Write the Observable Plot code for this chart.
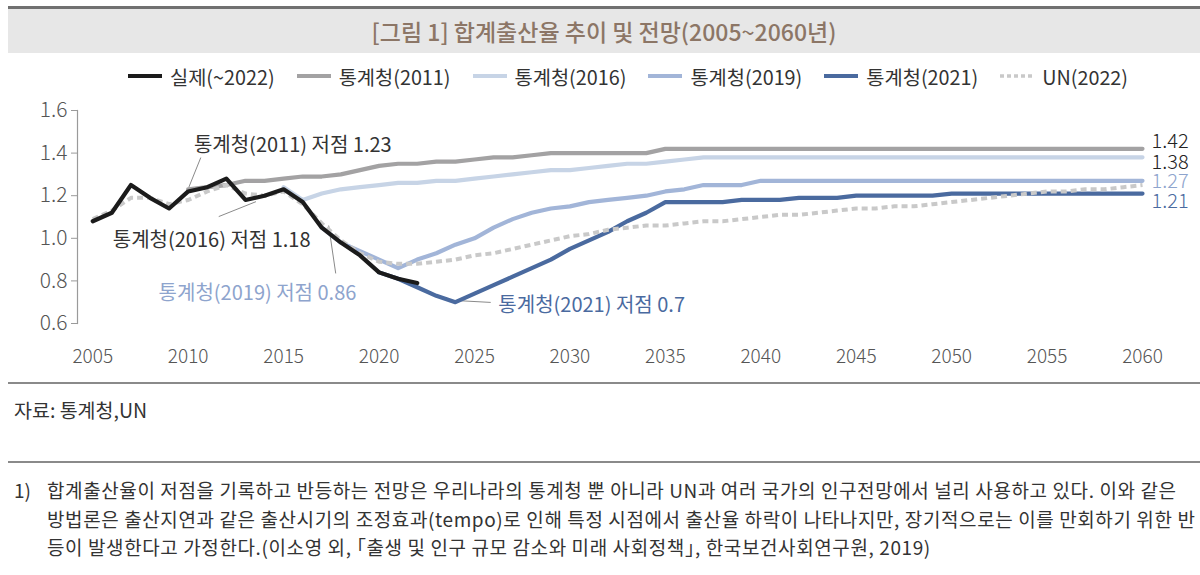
<!DOCTYPE html>
<html><head><meta charset="utf-8">
<script src="https://cdn.jsdelivr.net/npm/d3@7"></script>
<script src="https://cdn.jsdelivr.net/npm/@observablehq/plot@0.6"></script>
<style>
body{margin:0;background:#fff;font-family:"Noto Sans CJK KR","Noto Sans",sans-serif;width:1200px;height:575px;overflow:hidden;position:relative;color:#333;}
#title{position:absolute;left:8px;right:0;top:6px;height:44px;border-top:3px solid #707070;background:#e7e7e7;color:#8c7666;font-size:23px;font-weight:500;text-align:center;line-height:44px;}
#legend{position:absolute;top:62px;left:28px;width:1200px;display:flex;justify-content:center;align-items:center;font-size:19.8px;color:#333;height:28px;}
#legend .item{display:flex;align-items:center;margin:0 11px;}
#legend svg{margin-right:8px;}
#chart{position:absolute;top:95px;left:0;}
.rule{position:absolute;left:8px;right:0;height:2px;background:#8a8a8a;}
#source{position:absolute;left:14px;top:395px;font-size:19.5px;color:#333;}
#note{position:absolute;left:14px;top:476px;font-size:19px;letter-spacing:0.6px;color:#333;line-height:28.5px;white-space:nowrap;}
#note .num{position:absolute;left:0;top:0;letter-spacing:0;}
#note .txt{margin-left:33px;}
.br{font-feature-settings:"halt";}
</style>
</head><body>
<div id="title">[그림 1] 합계출산율 추이 및 전망(2005~2060년)</div>
<div id="legend"></div>
<div id="chart"></div>
<div class="rule" style="top:382px"></div>
<div id="source">자료: 통계청,UN</div>
<div class="rule" style="top:461px"></div>
<div id="note"><span class="num">1)</span><div class="txt">합계출산율이 저점을 기록하고 반등하는 전망은 우리나라의 통계청 뿐 아니라 UN과 여러 국가의 인구전망에서 널리 사용하고 있다. 이와 같은<br>방법론은 출산지연과 같은 출산시기의 조정효과(tempo)로 인해 특정 시점에서 출산율 하락이 나타나지만, 장기적으로는 이를 만회하기 위한 반<br>등이 발생한다고 가정한다.(이소영 외, <span class="br">「출생 및 인구 규모 감소와 미래 사회정책」</span>, 한국보건사회연구원, 2019)</div></div>
<script>
// ---- data ----
const seriesNames = ["실제(~2022)", "통계청(2011)", "통계청(2016)", "통계청(2019)", "통계청(2021)", "UN(2022)"];
const seriesStart = [2005, 2010, 2015, 2017, 2020, 2005];

const actual = [1.08,1.12,1.25,1.19,1.14,1.22,1.24,1.28,1.18,1.20,1.23,1.17,1.05,0.98,0.92,0.84,0.81,0.79];

const kostat2011 = [1.23,1.24,1.25,1.27,1.27,1.28,1.29,1.29,1.30,1.32,1.34,
  1.35,1.35,1.36,1.36,1.37,1.38,1.38,1.39,1.40,1.40,
  1.40,1.40,1.40,1.40,1.42,1.42,1.42,1.42,1.42,1.42,
  1.42,1.42,1.42,1.42,1.42,1.42,1.42,1.42,1.42,1.42,
  1.42,1.42,1.42,1.42,1.42,1.42,1.42,1.42,1.42,1.42];

const kostat2016 = [1.24,1.18,1.21,1.23,1.24,1.25,1.26,1.26,1.27,1.27,
  1.28,1.29,1.30,1.31,1.32,1.32,1.33,1.34,1.35,1.35,
  1.36,1.37,1.38,1.38,1.38,1.38,1.38,1.38,1.38,1.38,
  1.38,1.38,1.38,1.38,1.38,1.38,1.38,1.38,1.38,1.38,
  1.38,1.38,1.38,1.38,1.38,1.38];

const kostat2019 = [1.05,0.98,0.94,0.90,0.86,0.90,0.93,0.97,1.00,1.05,
  1.09,1.12,1.14,1.15,1.17,1.18,1.19,1.20,1.22,1.23,
  1.25,1.25,1.25,1.27,1.27,1.27,1.27,1.27,1.27,1.27,
  1.27,1.27,1.27,1.27,1.27,1.27,1.27,1.27,1.27,1.27,
  1.27,1.27,1.27,1.27];

const kostat2021 = [0.84,0.81,0.77,0.73,0.70,0.74,0.78,0.82,0.86,0.90,
  0.95,0.99,1.03,1.08,1.12,1.17,1.17,1.17,1.17,1.18,
  1.18,1.18,1.19,1.19,1.19,1.20,1.20,1.20,1.20,1.20,
  1.21,1.21,1.21,1.21,1.21,1.21,1.21,1.21,1.21,1.21,1.21];

const un2022 = [1.09,1.13,1.19,1.19,1.16,1.18,1.22,1.25,1.21,1.20,
  1.22,1.16,1.07,0.99,0.93,0.89,0.88,0.88,0.89,0.90,
  0.92,0.93,0.95,0.97,0.99,1.01,1.02,1.04,1.05,1.06,
  1.06,1.07,1.08,1.08,1.09,1.10,1.11,1.11,1.12,1.13,
  1.14,1.14,1.15,1.15,1.16,1.17,1.18,1.19,1.20,1.21,
  1.22,1.22,1.23,1.23,1.24,1.25];

const xTicks = [2005,2010,2015,2020,2025,2030,2035,2040,2045,2050,2055,2060];
const yTicks = [0.6,0.8,1.0,1.2,1.4,1.6];

const endLabels = ["1.42","1.38","1.27","1.21"];
const endValues = [1.42, 1.38, 1.27, 1.21];

const annoTexts = ["통계청(2011) 저점 1.23","통계청(2016) 저점 1.18","통계청(2019) 저점 0.86","통계청(2021) 저점 0.7"];
const annoYear = [2010.3, 2006.05, 2008.45, 2026.25];
const annoValue = [1.436, 0.99, 0.741, 0.685];
const leaderFrom = [[2010.03,1.239],[2011.6,1.102],[2017.36,1.06],[2024.0,0.708]];
const leaderTo = [[2010.66,1.379],[2013.55,1.172],[2017.73,0.835],[2025.85,0.699]];

// ---- styles ----
const colors = ["#1b1b1b","#a3a2a3","#c7d4e6","#a2b5d8","#4a6a9f","#c9c9c9"];
const annoColors = ["#333","#333","#8ea4cd","#4a6a9f"];
const endColors = ["#222","#222","#8ea4cd","#4a6a9f"];
const endDy = [-7, 5, 1, 8];

const valuesList = [actual, kostat2011, kostat2016, kostat2019, kostat2021, un2022];
const rows = valuesList.map((vals, i) => vals.map((v, j) => ({series: seriesNames[i], year: seriesStart[i] + j, value: v})));

// legend
const leg = document.getElementById("legend");
seriesNames.forEach((n, i) => {
  const it = document.createElement("div");
  it.className = "item";
  const dash = i === 5 ? 'stroke-dasharray="4,3"' : '';
  it.innerHTML = `<svg width="34" height="10"><line x1="0" x2="34" y1="5" y2="5" stroke="${colors[i]}" stroke-width="${i===5?3.5:4}" ${dash}/></svg><span>${n}</span>`;
  leg.appendChild(it);
});

const drawOrder = [1, 2, 3, 4, 5, 0];
const lineMarks = drawOrder.map(i => Plot.line(rows[i], {
  x: "year", y: "value", stroke: colors[i],
  strokeWidth: i === 5 ? 4 : 4.2,
  strokeDasharray: i === 5 ? "6,4" : null,
  strokeLinejoin: "round", strokeLinecap: i === 5 ? "butt" : "round"
}));

const annos = annoTexts.map((t, i) => ({t, x: annoYear[i], y: annoValue[i], c: annoColors[i]}));
const leaders = leaderFrom.map((f, i) => ({x1: f[0], y1: f[1], x2: leaderTo[i][0], y2: leaderTo[i][1]}));
const endMarks = endLabels.map((t, i) => Plot.text([{t, x: 2060, y: endValues[i]}], {
  x: "x", y: "y", text: "t", fill: endColors[i], textAnchor: "start", dx: 9, dy: endDy[i], fontSize: 20, fontWeight: 300
}));

const chart = Plot.plot({
  width: 1200, height: 282,
  marginTop: 15, marginBottom: 54, marginLeft: 77, marginRight: 58,
  x: {domain: [2004.2, 2060]},
  y: {domain: [0.6, 1.6]},
  style: {fontFamily: '"Noto Sans CJK KR", "Noto Sans", sans-serif', fontSize: "19px", color: "#555", background: "transparent", overflow: "visible"},
  marks: [
    Plot.frame({anchor: "left", stroke: "#9a9a9a", strokeWidth: 1.2}),
    Plot.axisY({ticks: yTicks, tickSize: 6, tickPadding: 4, tickFormat: d => d.toFixed(1), stroke: "#9a9a9a", fill: "#555", fontSize: 21, fontWeight: 300, label: null}),
    Plot.axisX({ticks: xTicks, tickSize: 0, tickPadding: 26, tickFormat: d => String(d), fill: "#555", fontSize: 19, fontWeight: 300, label: null}),
    Plot.link(leaders, {x1: "x1", y1: "y1", x2: "x2", y2: "y2", stroke: "#8a8a8a", strokeWidth: 1}),
    ...lineMarks,
    Plot.text(annos, {x: "x", y: "y", text: "t", fill: d => d.c, textAnchor: "start", fontSize: 20}),
    ...endMarks
  ]
});
document.getElementById("chart").appendChild(chart);
</script>
</body></html>
